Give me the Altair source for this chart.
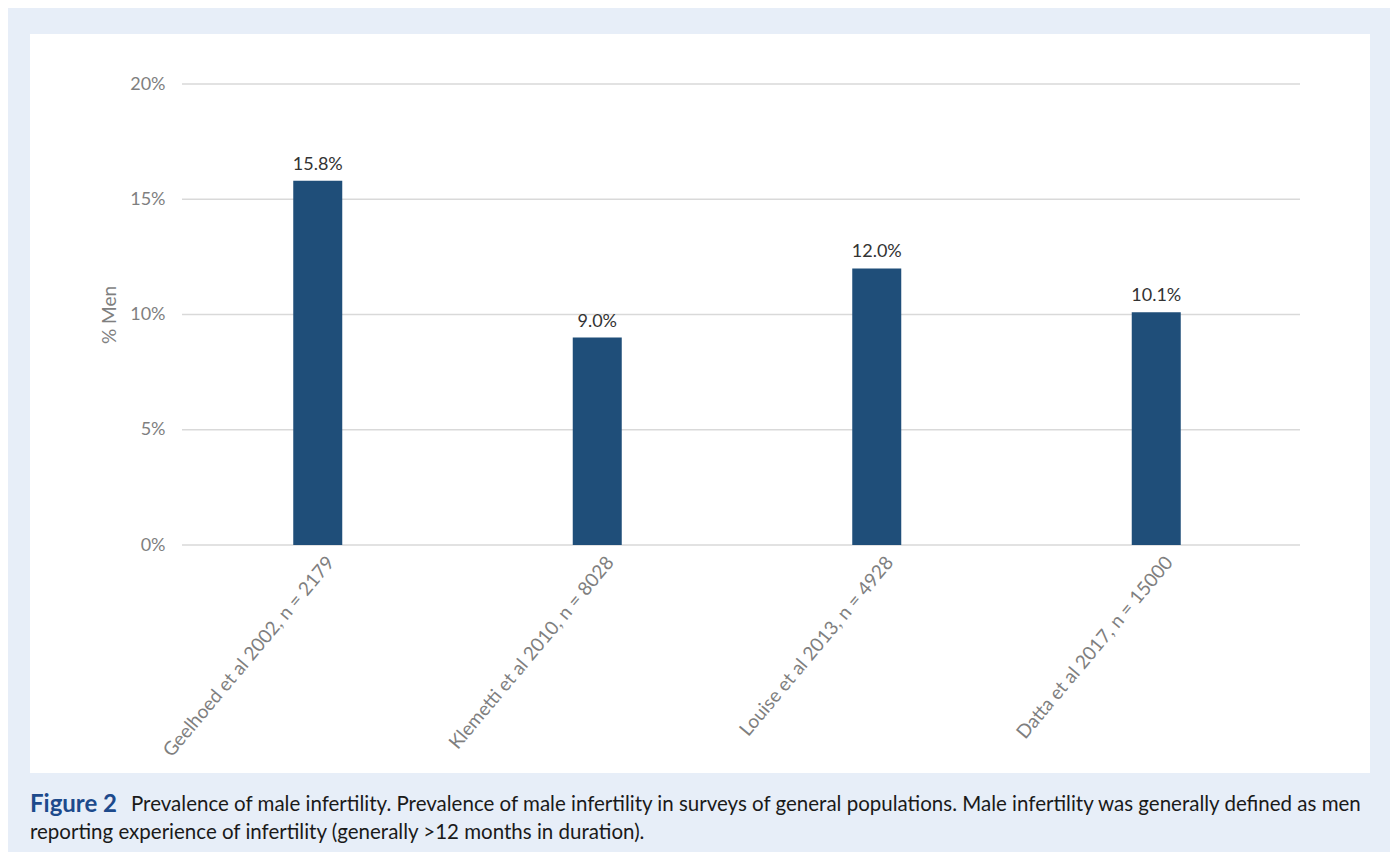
import altair as alt
import pandas as pd

studies = [
    "Geelhoed et al 2002, n = 2179",
    "Klemetti et al 2010, n = 8028",
    "Louise et al 2013, n = 4928",
    "Datta et al 2017, n = 15000",
]
prevalence = [0.158, 0.090, 0.120, 0.101]
grid_values = [0.0, 0.05, 0.10, 0.15, 0.20]

caption_head = "Figure 2"
caption_line1 = ("Prevalence of male infertility. Prevalence of male infertility in surveys of "
                 "general populations. Male infertility was generally defined as men")
caption_line2 = "reporting experience of infertility (generally >12 months in duration)."

df = pd.DataFrame({"study": studies, "value": prevalence})
grid_df = pd.DataFrame({"value": grid_values})
one = pd.DataFrame({"k": [0]})

FONT = "Lato"
W, H = 1118, 461

x_enc = alt.X(
    "study:N", sort=studies,
    scale=alt.Scale(paddingInner=0, paddingOuter=0),
    axis=alt.Axis(
        title=None, labelAngle=-50, labelAlign="right", labelBaseline="top",
        labelFont=FONT, labelFontSize=19, labelColor="#7f7f7f", labelLimit=0,
        ticks=False, domain=False, grid=False, labelPadding=8, labelOffset=6,
        zindex=1,
    ),
)
y_scale = alt.Scale(domain=[0, 0.2], nice=False)
y_axis = alt.Axis(
    title="% Men", values=grid_values, format=".0%",
    labelFont=FONT, labelFontSize=18, labelColor="#7f7f7f", labelPadding=13,
    titleFont=FONT, titleFontSize=19, titleColor="#7f7f7f", titleFontWeight="normal",
    titlePadding=10, ticks=False, domain=False, grid=False, zindex=1,
)
y_enc = alt.Y("value:Q", scale=y_scale, axis=y_axis)

outer = alt.Chart(one).mark_rect(color="#e7eef8").encode(
    x=alt.value(-170), x2=alt.value(1212), y=alt.value(-76), y2=alt.value(768)
)
inner = alt.Chart(one).mark_rect(color="#ffffff").encode(
    x=alt.value(-148), x2=alt.value(1192), y=alt.value(-50), y2=alt.value(689)
)
grid = alt.Chart(grid_df).mark_rule(color="#d9d9d9", strokeWidth=1.3).encode(
    y=y_enc,
    x=alt.value(4), x2=alt.value(1122),
)
bars = alt.Chart(df).mark_bar(size=49, color="#1f4e79").encode(x=x_enc, y=y_enc)
labels = alt.Chart(df).mark_text(
    baseline="alphabetic", dy=-11, font=FONT, fontSize=18, color="#333333"
).encode(x=x_enc, y=y_enc, text=alt.Text("value:Q", format=".1%"))

cap_head = alt.Chart(one).mark_text(
    align="left", baseline="middle", font=FONT, fontSize=24, fontWeight="bold", color="#1d4a8c"
).encode(x=alt.value(-148), y=alt.value(721), text=alt.value(caption_head))
cap1 = alt.Chart(one).mark_text(
    align="left", baseline="middle", font=FONT, fontSize=20.5, color="#1a1a1a"
).encode(x=alt.value(-47), y=alt.value(721), text=alt.value(caption_line1))
cap2 = alt.Chart(one).mark_text(
    align="left", baseline="middle", font=FONT, fontSize=20.5, color="#1a1a1a"
).encode(x=alt.value(-148), y=alt.value(749), text=alt.value(caption_line2))

chart = alt.layer(outer, inner, grid, bars, labels, cap_head, cap1, cap2).properties(
    width=W, height=H,
    padding={"left": 178, "top": 84, "right": 100, "bottom": 315},
    autosize=alt.AutoSizeParams(type="none"),
    background="#ffffff",
).configure_view(stroke=None)

chart.save("out.html", embed_options={"renderer": "svg", "actions": False})
